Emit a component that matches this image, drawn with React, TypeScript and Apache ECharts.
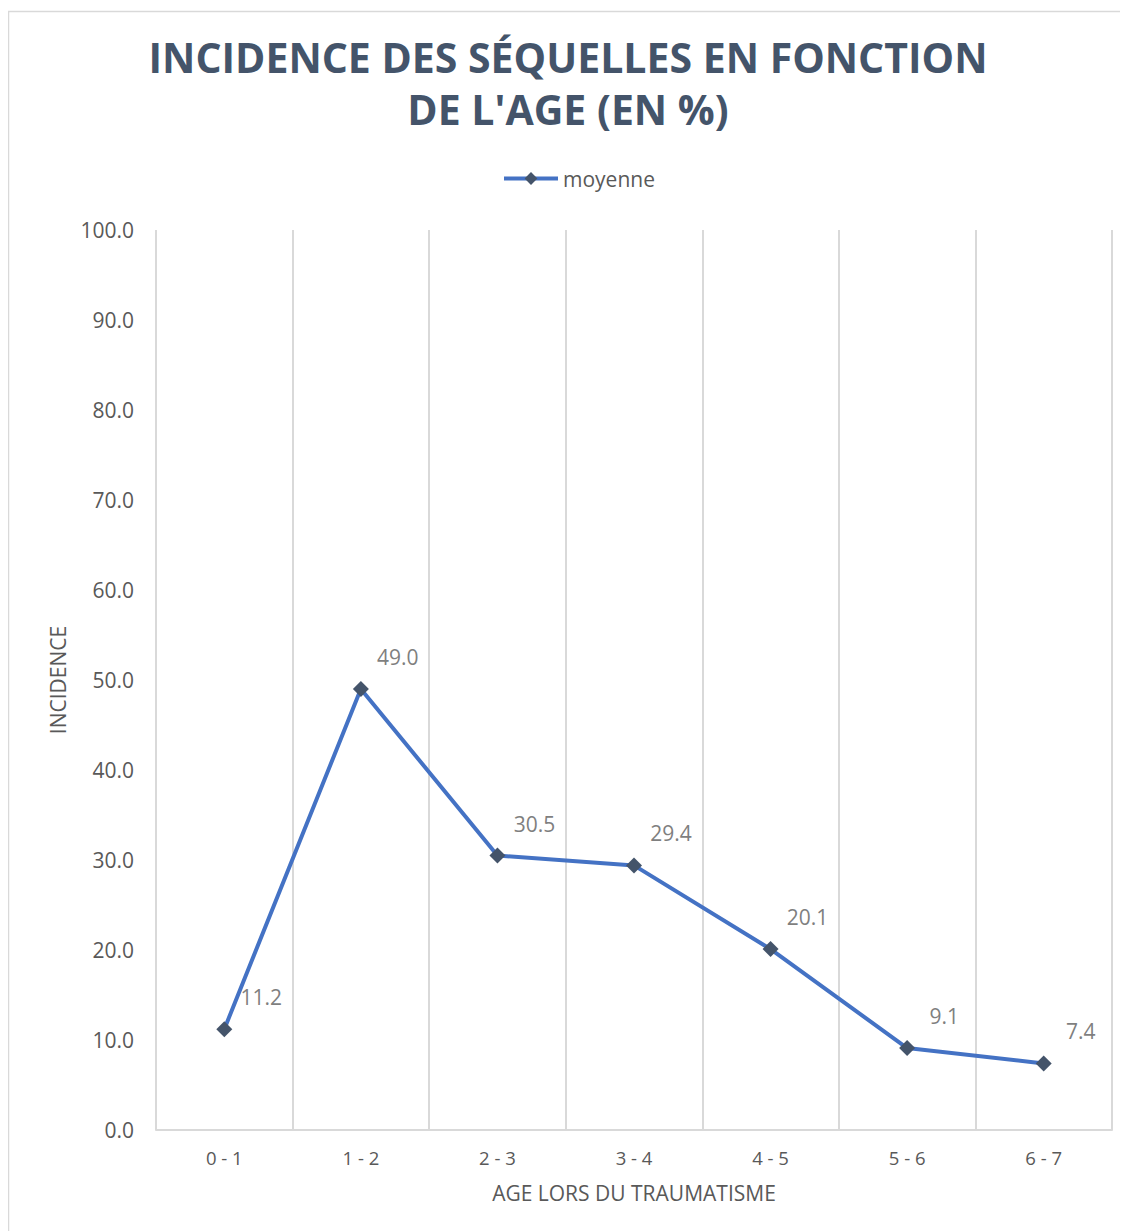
import React, { useEffect, useRef } from "react";
import * as echarts from "echarts";

const categories = ["0 - 1", "1 - 2", "2 - 3", "3 - 4", "4 - 5", "5 - 6", "6 - 7"];
const moyenne = [11.2, 49.0, 30.5, 29.4, 20.1, 9.1, 7.4];
const yTicks = { min: 0, max: 100, interval: 10 };

const FONT = "'Open Sans', 'Noto Sans', sans-serif";
const GREY = "#595959";

export default function App() {
  const ref = useRef<HTMLDivElement>(null);
  useEffect(() => {
    if (!ref.current) return;
    const chart = echarts.init(ref.current, null, { renderer: "svg" });
    chart.setOption({
      animation: false,
      backgroundColor: "#ffffff",
      graphic: [
        {
          type: "rect",
          shape: { x: 0.5, y: 3.5, width: 1200, height: 1300 },
          style: { fill: "none", stroke: "#d9d9d9", lineWidth: 1.5 },
          silent: true,
          z: -1,
        },
      ],
      title: {
        text: "INCIDENCE DES SÉQUELLES EN FONCTION\nDE L'AGE (EN %)",
        left: "center",
        top: 18,
        textStyle: {
          fontFamily: FONT,
          fontSize: 41,
          fontWeight: "bold",
          color: "#44546A",
          lineHeight: 52,
        },
      },
      legend: {
        top: 155,
        left: 489,
        itemWidth: 54,
        itemHeight: 16,
        itemGap: 4,
        lineStyle: { width: 4 },
        textStyle: { fontFamily: FONT, fontSize: 21, color: GREY },
        data: ["moyenne"],
      },
      grid: { left: 148, right: 16, top: 222, bottom: 101, containLabel: false },
      xAxis: {
        type: "category",
        data: categories,
        boundaryGap: true,
        name: "AGE LORS DU TRAUMATISME",
        nameLocation: "middle",
        nameGap: 52,
        nameTextStyle: { fontFamily: FONT, fontSize: 21, color: GREY, verticalAlign: "top" },
        axisLine: { show: true, lineStyle: { color: "#d9d9d9", width: 2 } },
        axisTick: { show: false },
        axisLabel: { fontFamily: FONT, fontSize: 18.5, color: GREY, margin: 18 },
        splitLine: { show: true, lineStyle: { color: "#d9d9d9", width: 2 } },
      },
      yAxis: {
        type: "value",
        min: yTicks.min,
        max: yTicks.max,
        interval: yTicks.interval,
        name: "INCIDENCE",
        nameLocation: "middle",
        nameGap: 88,
        nameRotate: 90,
        nameTextStyle: { fontFamily: FONT, fontSize: 21, color: GREY },
        axisLine: { show: false },
        axisTick: { show: false },
        splitLine: { show: false },
        axisLabel: {
          fontFamily: FONT,
          fontSize: 21,
          color: GREY,
          margin: 22,
          formatter: (v: number) => v.toFixed(1),
        },
      },
      series: [
        {
          name: "moyenne",
          type: "line",
          data: moyenne,
          symbol: "diamond",
          symbolSize: 16,
          itemStyle: { color: "#44546A" },
          lineStyle: { color: "#4472C4", width: 4 },
          label: {
            show: true,
            position: "inside",
            offset: [37, -32],
            fontFamily: FONT,
            fontSize: 21,
            color: "#7f7f7f",
            formatter: (p: any) => Number(p.value).toFixed(1),
          },
        },
      ],
    });
    return () => chart.dispose();
  }, []);
  return <div ref={ref} style={{ width: 1120, height: 1223 }} />;
}
